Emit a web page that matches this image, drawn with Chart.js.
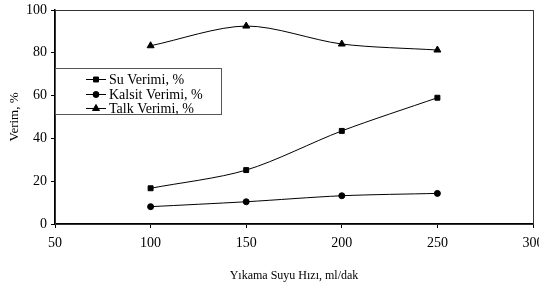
<!DOCTYPE html>
<html>
<head>
<meta charset="utf-8">
<script src="https://cdn.jsdelivr.net/npm/chart.js@4/dist/chart.umd.min.js"></script>
<style>
  html, body { margin: 0; padding: 0; background: #fff; }
  #wrap { width: 539px; height: 284px; position: relative; }
</style>
</head>
<body>
<div id="wrap"><canvas id="myChart"></canvas></div>
<script>
var hiz = [100, 150, 200, 250];
var suVerimi = [16.7, 25.2, 43.5, 59.0];
var kalsitVerimi = [8.1, 10.4, 13.2, 14.3];
var talkVerimi = [83.3, 92.5, 84.1, 81.3];
var seriler = ['Su Verimi, %', 'Kalsit Verimi, %', 'Talk Verimi, %'];
var xTicks = [50, 100, 150, 200, 250, 300];
var yTicks = [0, 20, 40, 60, 80, 100];

var serif = "'Liberation Serif', 'Times New Roman', serif";

function toPoints(vals) {
    return hiz.map(function(h, i) { return {x: h, y: vals[i]}; });
}

function makeSet(label, vals, style, r) {
    return {
        label: label,
        data: toPoints(vals),
        borderColor: '#000',
        backgroundColor: '#000',
        borderWidth: 1,
        pointStyle: style,
        pointRadius: r,
        pointHoverRadius: r,
        tension: 0.3
    };
}

// plot frame + legend box drawn inside the plot
var framePlugin = {
    id: 'frame',
    afterDraw: function(chart) {
        var ctx = chart.ctx;
        var a = chart.chartArea;
        ctx.save();
        ctx.strokeStyle = '#333';
        ctx.lineWidth = 1;
        ctx.strokeRect(a.left + 0.5, a.top + 0.5, a.right - a.left, a.bottom - a.top);

        // legend
        var lx = a.left, ly = 68, lw = 166, lh = 46;
        ctx.fillStyle = '#fff';
        ctx.fillRect(lx + 1, ly, lw - 1, lh);
        ctx.strokeStyle = '#555';
        ctx.strokeRect(lx + 0.5, ly + 0.5, lw, lh);
        var rows = [79, 94, 108];
        chart.data.datasets.forEach(function(ds, i) {
            var y = rows[i];
            ctx.strokeStyle = '#000';
            ctx.fillStyle = '#000';
            ctx.lineWidth = 1;
            ctx.beginPath();
            ctx.moveTo(86, y + 0.5);
            ctx.lineTo(106, y + 0.5);
            ctx.stroke();
            Chart.helpers.drawPoint(ctx, {pointStyle: ds.pointStyle, radius: ds.pointRadius, borderWidth: 1}, 96, y + 0.5);
            ctx.font = '14px ' + serif;
            ctx.textBaseline = 'middle';
            ctx.textAlign = 'left';
            ctx.fillText(ds.label, 109, y + 1);
        });
        ctx.restore();
    }
};

var ctx = document.getElementById('myChart');
var myChart = new Chart(ctx, {
    type: 'line',
    data: {
        datasets: [
            makeSet(seriler[0], suVerimi, 'rect', 3.5),
            makeSet(seriler[1], kalsitVerimi, 'circle', 3),
            makeSet(seriler[2], talkVerimi, 'triangle', 4)
        ]
    },
    options: {
        responsive: true,
        maintainAspectRatio: false,
        animation: false,
        layout: { padding: { top: 10, right: 6, left: 0, bottom: 0 } },
        plugins: {
            legend: { display: false },
            tooltip: { enabled: false }
        },
        scales: {
            x: {
                type: 'linear',
                min: 50,
                max: 300,
                afterBuildTicks: function(scale) {
                    scale.ticks = xTicks.map(function(v) { return {value: v}; });
                },
                afterFit: function(scale) {
                    scale.height = 60;
                    scale.paddingLeft = 0;
                    scale.paddingRight = 0;
                },
                ticks: { color: '#000', font: { family: serif, size: 14 }, padding: 7, maxRotation: 0 },
                grid: { drawOnChartArea: false, drawTicks: true, tickLength: 4, color: '#000' },
                border: { display: true, color: '#000', width: 1.5 },
                title: { display: true, text: 'Yıkama Suyu Hızı, ml/dak', color: '#000', font: { family: serif, size: 12 }, padding: { top: 0, bottom: 1 } }
            },
            y: {
                min: 0,
                max: 100,
                afterBuildTicks: function(scale) {
                    scale.ticks = yTicks.map(function(v) { return {value: v}; });
                },
                afterFit: function(scale) {
                    scale.width = 55;
                    scale.paddingTop = 0;
                    scale.paddingBottom = 0;
                },
                ticks: { color: '#000', font: { family: serif, size: 14 }, padding: 4 },
                grid: { drawOnChartArea: false, drawTicks: true, tickLength: 4, color: '#000' },
                border: { display: true, color: '#000', width: 1.5 },
                title: { display: true, text: 'Verim, %', color: '#000', font: { family: serif, size: 13 }, padding: { top: 7, bottom: 0 } }
            }
        }
    },
    plugins: [framePlugin]
});
</script>
</body>
</html>
